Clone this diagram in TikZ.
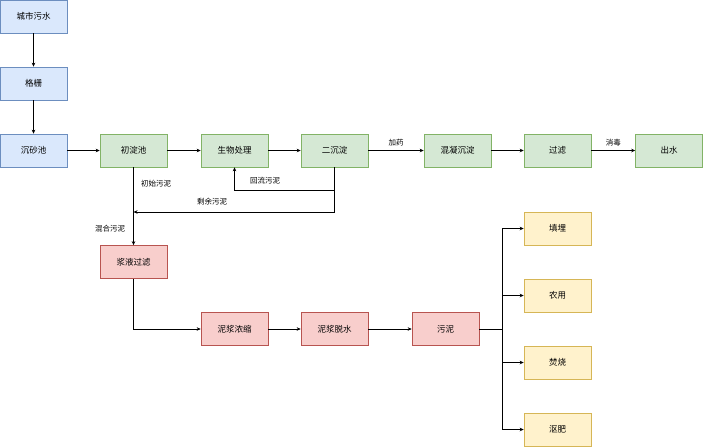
\documentclass[tikz,border=0pt]{standalone}
\usepackage{fontspec}
\setmainfont{Noto Sans CJK SC}
\usetikzlibrary{arrows.meta}
\definecolor{bfill}{HTML}{DAE8FC}\definecolor{bline}{HTML}{6C8EBF}
\definecolor{gfill}{HTML}{D5E8D4}\definecolor{gline}{HTML}{82B366}
\definecolor{rfill}{HTML}{F8CECC}\definecolor{rline}{HTML}{B85450}
\definecolor{yfill}{HTML}{FFF2CC}\definecolor{yline}{HTML}{D6B656}
\begin{document}
\begin{tikzpicture}[x=1pt,y=-1pt,
  box/.style={draw,line width=0.6pt,minimum width=67pt,minimum height=33pt,inner sep=0pt,font=\fontsize{8.5}{10}\selectfont},
  bbox/.style={box,fill=bfill,draw=bline},
  gbox/.style={box,fill=gfill,draw=gline},
  rbox/.style={box,fill=rfill,draw=rline},
  ybox/.style={box,fill=yfill,draw=yline},
  lbl/.style={font=\fontsize{7.5}{9}\selectfont,inner sep=1pt},
  arr/.style={draw,line width=0.6pt,-{Stealth[length=4pt,width=3.5pt]}},
  ln/.style={draw,line width=0.6pt}]
\useasboundingbox (0,0) rectangle (703,447);
\node[bbox] (a) at (33.5,16.5) {城市污水};
\node[bbox] (b) at (33.5,83.5) {格栅};
\node[bbox] (c) at (33.5,150.5) {沉砂池};
\node[gbox] (d) at (133.5,150.5) {初淀池};
\node[gbox] (e) at (234.5,150.5) {生物处理};
\node[gbox] (f) at (334.5,150.5) {二沉淀};
\node[gbox] (g) at (457.5,150.5) {混凝沉淀};
\node[gbox] (h) at (557.5,150.5) {过滤};
\node[gbox] (i) at (669,150.5) {出水};
\node[rbox] (j) at (133.5,262) {浆液过滤};
\node[rbox] (k) at (234.5,329) {泥浆浓缩};
\node[rbox] (l) at (334.5,329) {泥浆脱水};
\node[rbox] (m) at (445.5,329) {污泥};
\node[ybox] (n1) at (557.5,228.5) {填埋};
\node[ybox] (n2) at (557.5,295.5) {农用};
\node[ybox] (n3) at (557.5,362.5) {焚烧};
\node[ybox] (n4) at (557.5,429.5) {沤肥};
\coordinate (br) at (502,329);
\coordinate (rl) at (334.5,190);
\coordinate (sj) at (133.5,212);
\path[arr] (a) -- (b);
\path[arr] (b) -- (c);
\path[arr] (c) -- (d);
\path[arr] (d) -- (e);
\path[arr] (e) -- (f);
\path[arr] (f) -- node[lbl,above=3pt]{加药} (g);
\path[arr] (g) -- (h);
\path[arr] (h) -- node[lbl,above=3pt]{消毒} (i);
\path[arr] (d) -- (j);
\path[arr] (f.south) |- (rl) -| (e.south);
\path[arr] (f.south) |- (sj);
\path[arr] (j.south) |- (k);
\path[arr] (k) -- (l);
\path[arr] (l) -- (m);
\path[ln] (m) -- (br);
\foreach \t in {n1,n2,n3,n4} \path[arr] (br) |- (\t.west);
\node[lbl] (t1) at (156,184) {初始污泥};
\node[lbl] (t2) at (265,181) {回流污泥};
\node[lbl] (t3) at (212,202) {剩余污泥};
\node[lbl] (t4) at (110,229) {混合污泥};
\end{tikzpicture}
\end{document}
